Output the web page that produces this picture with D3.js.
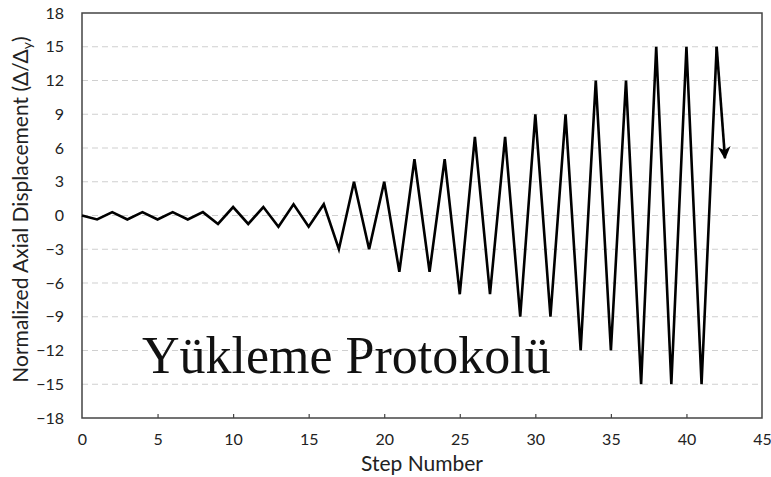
<html lang="en">
<head>
    <meta charset="UTF-8">
    <title>Loading protocol</title>
    <script src="https://d3js.org/d3.v7.min.js"></script>
    <style>
        body { margin: 0; background: #fff; }
        .tick text { font-family: Lato, "Open Sans", sans-serif; font-size: 16px; fill: #222; }
        .label { font-family: Lato, "Open Sans", sans-serif; fill: #222; }
    </style>
</head>
<body>
    <svg id="chart" width="771" height="477"></svg>
<script>

    // step numbers and normalized displacement
    const steps = [0, 1, 2, 3, 4, 5, 6, 7, 8, 9, 10, 11, 12, 13, 14, 15, 16, 17, 18, 19, 20,
        21, 22, 23, 24, 25, 26, 27, 28, 29, 30, 31, 32, 33, 34, 35, 36, 37, 38, 39, 40, 41, 42];
    const displacement = [0, -0.35, 0.3, -0.35, 0.3, -0.35, 0.3, -0.35, 0.3, -0.75, 0.75, -0.75, 0.75,
        -1, 1, -1, 1, -3, 3, -3, 3, -5, 5, -5, 5, -7, 7, -7, 7, -9, 9, -9, 9,
        -12, 12, -12, 12, -15, 15, -15, 15, -15, 15];
    // arrow at the end of the last cycle
    const arrowEnd = [42.55, 5.1];

    const xTicks = [0, 5, 10, 15, 20, 25, 30, 35, 40, 45];
    const yTicks = [-18, -15, -12, -9, -6, -3, 0, 3, 6, 9, 12, 15, 18];

    const svg = d3.select('#chart');
    const margin = { top: 13, right: 9, bottom: 59, left: 82 };
    const width = 771 - margin.left - margin.right;
    const height = 477 - margin.top - margin.bottom;

    const x = d3.scaleLinear().domain([0, 45]).range([0, width]);
    const y = d3.scaleLinear().domain([-18, 18]).range([height, 0]);

    const chart = svg.append('g')
        .attr('transform', `translate(${margin.left},${margin.top})`);

    // dashed grid
    chart.append('g')
        .selectAll('line')
        .data(yTicks.filter(d => d > -18 && d < 18))
        .enter()
        .append('line')
        .attr('x1', 0)
        .attr('x2', width)
        .attr('y1', d => y(d))
        .attr('y2', d => y(d))
        .attr('stroke', '#d0d0d0')
        .attr('stroke-width', 1.2)
        .attr('stroke-dasharray', '6,4');

    // axes
    const xAxis = d3.axisBottom(x).tickValues(xTicks).tickSize(-4).tickPadding(16);
    const yAxis = d3.axisLeft(y).tickValues(yTicks).tickSize(0).tickPadding(18);

    const gx = chart.append('g')
        .attr('transform', 'translate(0,' + height + ')')
        .call(xAxis);
    gx.select('.domain').remove();
    gx.selectAll('.tick line')
        .attr('stroke', '#444')
        .attr('stroke-width', 1.2)
        .filter(d => d === 0 || d === 45).remove();

    const gy = chart.append('g').call(yAxis);
    gy.select('.domain').remove();

    // frame around plot
    chart.append('rect')
        .attr('x', 0)
        .attr('y', 0)
        .attr('width', width)
        .attr('height', height)
        .attr('fill', 'none')
        .attr('stroke', '#444')
        .attr('stroke-width', 1.5);

    // protocol line
    const points = steps.map((s, i) => [s, displacement[i]]);
    const line = d3.line()
        .x(d => x(d[0]))
        .y(d => y(d[1]));

    chart.append('path')
        .datum(points)
        .attr('d', line)
        .attr('fill', 'none')
        .attr('stroke', '#000')
        .attr('stroke-width', 2.6)
        .attr('stroke-linejoin', 'miter');

    // arrow
    svg.append('defs').append('marker')
        .attr('id', 'arrow')
        .attr('viewBox', '0 0 10 10')
        .attr('refX', 9)
        .attr('refY', 5)
        .attr('markerWidth', 5)
        .attr('markerHeight', 5)
        .attr('markerUnits', 'strokeWidth')
        .attr('orient', 'auto')
        .append('path')
        .attr('d', 'M0,0 L10,5 L0,10 L3,5 Z')
        .attr('fill', '#000');

    const last = points[points.length - 1];
    chart.append('line')
        .attr('x1', x(last[0]))
        .attr('y1', y(last[1]))
        .attr('x2', x(arrowEnd[0]))
        .attr('y2', y(arrowEnd[1]))
        .attr('stroke', '#000')
        .attr('stroke-width', 2.6)
        .attr('marker-end', 'url(#arrow)');

    // labels
    svg.append('text')
        .attr('class', 'label')
        .attr('x', margin.left + width / 2)
        .attr('y', 471)
        .attr('text-anchor', 'middle')
        .attr('font-size', 21)
        .text('Step Number');

    const yl = svg.append('text')
        .attr('class', 'label')
        .attr('transform', `translate(28,${margin.top + height / 2 - 6}) rotate(-90)`)
        .attr('text-anchor', 'middle')
        .attr('font-size', 21);
    yl.append('tspan').text('Normalized Axial Displacement (Δ/Δ');
    yl.append('tspan').attr('font-size', 14).attr('dy', 4).text('y');
    yl.append('tspan').attr('dy', -4).text(')');

    svg.append('text')
        .attr('x', 142)
        .attr('y', 373)
        .attr('font-family', '"Liberation Serif", "DejaVu Serif", serif')
        .attr('font-size', 52)
        .attr('fill', '#111')
        .text('Yükleme Protokolü');

</script>
</body>
</html>
